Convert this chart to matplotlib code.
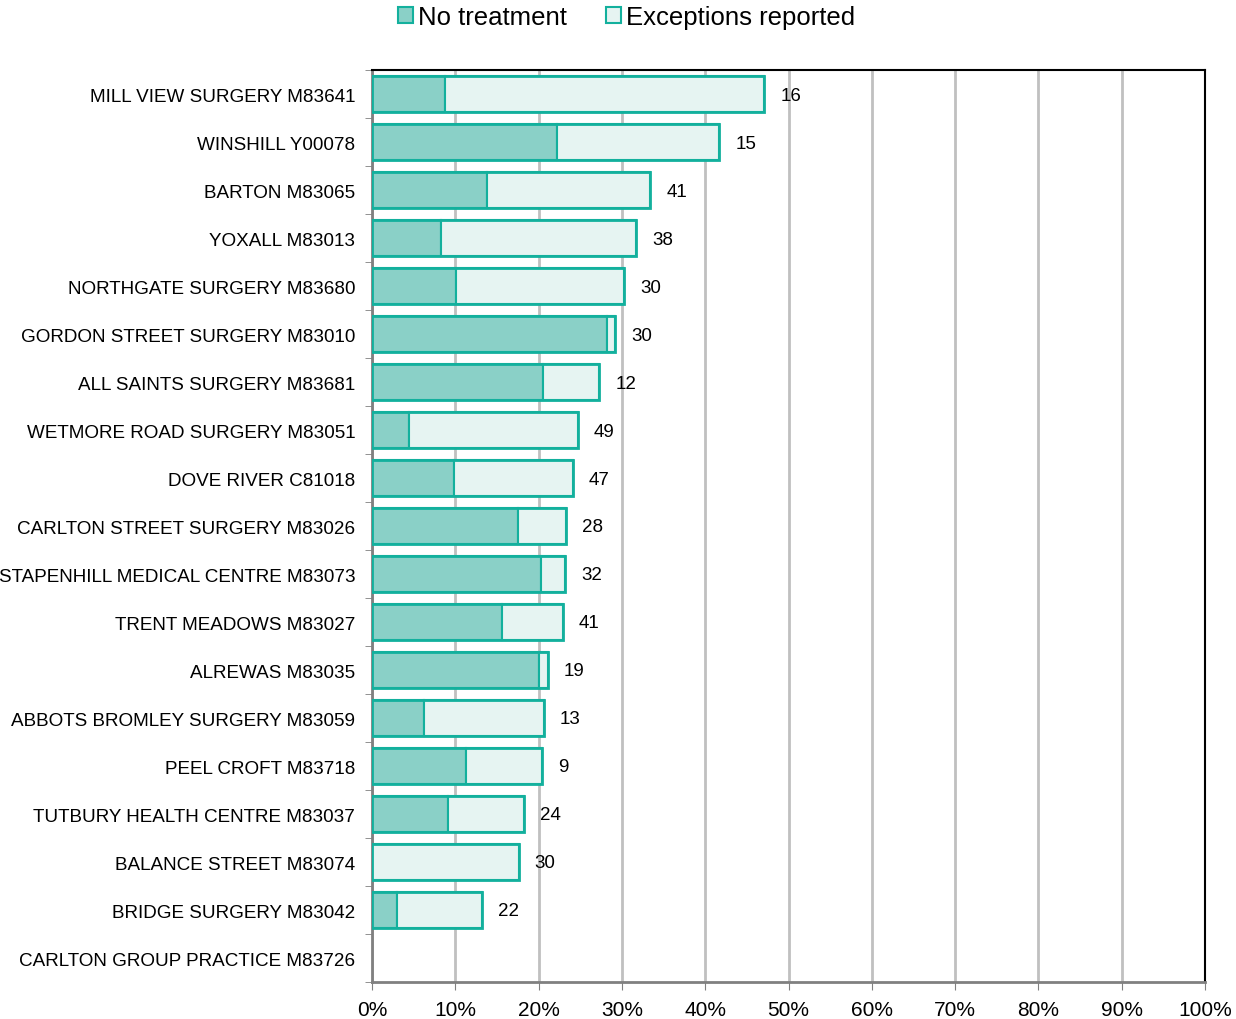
import matplotlib.pyplot as plt
import numpy as np

plt.rcParams['font.family'] = ['Liberation Sans', 'DejaVu Sans']

practices = ['MILL VIEW SURGERY M83641', 'WINSHILL Y00078', 'BARTON M83065', 'YOXALL M83013',
             'NORTHGATE SURGERY M83680', 'GORDON STREET SURGERY M83010', 'ALL SAINTS SURGERY M83681',
             'WETMORE ROAD SURGERY M83051', 'DOVE RIVER C81018', 'CARLTON STREET SURGERY M83026',
             'STAPENHILL MEDICAL CENTRE M83073', 'TRENT MEADOWS M83027', 'ALREWAS M83035',
             'ABBOTS BROMLEY SURGERY M83059', 'PEEL CROFT M83718', 'TUTBURY HEALTH CENTRE M83037',
             'BALANCE STREET M83074', 'BRIDGE SURGERY M83042', 'CARLTON GROUP PRACTICE M83726']
no_treatment = [8.8, 22.2, 13.8, 8.3, 10.1, 28.2, 20.5, 4.5, 9.8, 17.5,
                20.3, 15.6, 20.0, 6.3, 11.3, 9.1, 0.0, 3.0, 0.0]
exceptions = [38.3, 19.5, 19.6, 23.4, 20.2, 1.0, 6.8, 20.2, 14.3, 5.8,
              2.9, 7.3, 1.1, 14.3, 9.1, 9.2, 17.6, 10.2, 0.0]
counts = ['16', '15', '41', '38', '30', '30', '12', '49', '47', '28',
          '32', '41', '19', '13', '9', '24', '30', '22', '']

edge = '#13b09d'
fill_nt = '#8ad0c7'
fill_ex = '#e6f4f2'

fig = plt.figure(figsize=(12.36, 10.2), dpi=100)
ax = fig.add_axes([372/1236, 1 - 983/1020, (1205-372)/1236, (983-71)/1020])

y = np.arange(len(practices))
nt = np.array(no_treatment)
ex = np.array(exceptions)
tot = nt + ex

m = nt > 0
ax.barh(y[m], nt[m], height=0.75, color=fill_nt, edgecolor=edge, linewidth=1.5, label='No treatment', zorder=3)
m = ex > 0
ax.barh(y[m], ex[m], left=nt[m], height=0.75, color=fill_ex, edgecolor=edge, linewidth=1.5,
        label='Exceptions reported', zorder=3)
# outline of each whole bar
m = tot > 0
ax.barh(y[m], tot[m], height=0.75, fill=False, edgecolor=edge, linewidth=2, zorder=4)

for i, c in enumerate(counts):
    if c:
        ax.annotate(c, (tot[i], y[i]), xytext=(16, -1), textcoords='offset pixels',
                    va='center', ha='left', fontsize=13.5, zorder=5)

ax.set_xlim(0, 100)
ax.set_ylim(len(practices) - 0.5, -0.5)
ax.set_xticks(np.arange(0, 101, 10))
ax.set_xticklabels([f'{v}%' for v in range(0, 101, 10)], fontsize=15)
ax.set_yticks(y)
ax.set_yticklabels(practices, fontsize=13.6)
ax.set_yticks(np.arange(-0.5, len(practices), 1), minor=True)
ax.tick_params(axis='y', which='major', length=0, pad=12)
ax.tick_params(axis='y', which='minor', length=5, color='#808080', direction='out')
ax.tick_params(axis='x', length=6, color='#808080', pad=7)
ax.grid(axis='x', color='#c0c0c0', linewidth=2, zorder=0)
ax.set_axisbelow(True)
ax.spines['left'].set_color('#808080')
ax.spines['bottom'].set_color('#808080')
ax.spines['left'].set_linewidth(2)
ax.spines['bottom'].set_linewidth(2)
ax.spines['top'].set_linewidth(1.5)
ax.spines['right'].set_linewidth(1.5)

handles, labels = ax.get_legend_handles_labels()
fig.legend(handles[:2], labels[:2], loc='upper center', bbox_to_anchor=(0.507, 1.017), ncol=2, frameon=False,
           fontsize=18.5, handlelength=0.6, handleheight=0.6, handletextpad=0.2, columnspacing=1.5)

fig.savefig('out.png', dpi=100)
